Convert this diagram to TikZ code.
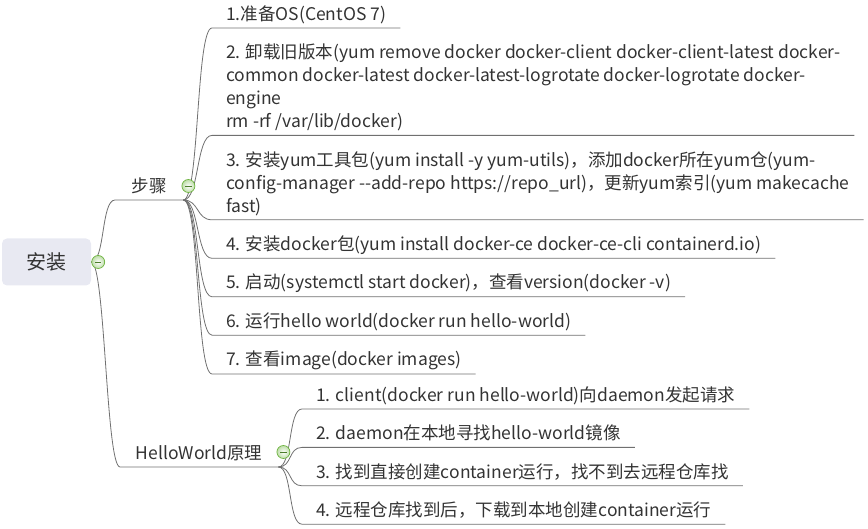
\documentclass[tikz,border=0pt]{standalone}
\usepackage{fontspec}
\setmainfont{Noto Sans CJK SC}
\usetikzlibrary{positioning}
\definecolor{linegray}{HTML}{707070}
\definecolor{textgray}{HTML}{333333}
\definecolor{rootfill}{HTML}{E8E9F2}
\definecolor{foldgreen}{HTML}{6DB33F}
\newcommand{\upstrut}{\rule{0pt}{27pt}}
\newcommand{\downstrut}{\rule[-4pt]{0pt}{4pt}}
\tikzset{
  root/.style={rectangle,rounded corners=5pt,fill=rootfill,minimum width=89pt,minimum height=47pt,
    font=\fontsize{20}{24}\selectfont,text=textgray},
  topic/.style={inner xsep=14pt,inner ysep=3.5pt,align=left,text=textgray,
    font=\fontsize{17.5}{23}\selectfont,
    execute at begin node={\upstrut},
    execute at end node={\downstrut}},
  conn/.style={draw=linegray,line width=0.8pt},
  fold/.style={circle,draw=foldgreen,line width=0.7pt,minimum size=13pt,inner sep=0pt,
    inner color=white,outer color=foldgreen!45,
    path picture={\draw[foldgreen!70!black,line width=0.9pt]
      ([xshift=-3.2pt]path picture bounding box.center) -- ([xshift=3.2pt]path picture bounding box.center);}}
}

\begin{document}
\begin{tikzpicture}[x=1pt,y=1pt]
\useasboundingbox (0,0) rectangle (868,529);

% root and its two branches
\node[root] (root) at (46.5,267) {安装};
\node[topic, anchor=south west, minimum width=68pt, align=center] (steps) at (115,329) {步骤};
\node[topic, anchor=south west, minimum width=158pt, align=center] (hello) at (120,62) {HelloWorld原理};

% steps
\node[topic, anchor=south west] (s1) at (212,501) {1.准备OS(CentOS 7)};
\node[topic, below=0pt of s1.south west, anchor=north west] (s2)
  {\upstrut 2. 卸载旧版本(yum remove docker docker-client docker-client-latest docker-\\
   common docker-latest docker-latest-logrotate docker-logrotate docker-\\
   engine\\
   rm -rf /var/lib/docker)\downstrut};
\node[topic, below=0pt of s2.south west, anchor=north west] (s3)
  {\upstrut 3. 安装yum工具包(yum install -y yum-utils)，添加docker所在yum仓(yum-\\
   config-manager -{}-add-repo https://repo\_url)，更新yum索引(yum makecache\\
   fast)\downstrut};
\node[topic, below=0pt of s3.south west, anchor=north west] (s4) {4. 安装docker包(yum install docker-ce docker-ce-cli containerd.io)};
\node[topic, below=0pt of s4.south west, anchor=north west] (s5) {5. 启动(systemctl start docker)，查看version(docker -v)};
\node[topic, below=0pt of s5.south west, anchor=north west] (s6) {6. 运行hello world(docker run hello-world)};
\node[topic, below=0pt of s6.south west, anchor=north west] (s7) {7. 查看image(docker images)};

% hello world
\node[topic, anchor=south west] (h1) at (302,120) {1. client(docker run hello-world)向daemon发起请求};
\node[topic, below=0pt of h1.south west, anchor=north west] (h2) {2. daemon在本地寻找hello-world镜像};
\node[topic, below=0pt of h2.south west, anchor=north west] (h3) {3. 找到直接创建container运行，找不到去远程仓库找};
\node[topic, below=0pt of h3.south west, anchor=north west] (h4) {4. 远程仓库找到后，下载到本地创建container运行};

% connectors with underlines
\foreach \n in {steps,hello}
  \draw[conn] (root.east) .. controls +(14,0) and +(-14,0) .. (\n.south west) -- (\n.south east);
\foreach \n in {s1,s2,s3,s4,s5,s6,s7}
  \draw[conn] (steps.south east) .. controls +(16,0) and +(-16,0) .. (\n.south west) -- (\n.south east);
\foreach \n in {h1,h2,h3,h4}
  \draw[conn] (hello.south east) .. controls +(14,0) and +(-14,0) .. (\n.south west) -- (\n.south east);

% fold buttons
\node[fold] (rootfold) at ([xshift=7pt]root.east) {};
\node[fold] (stepsfold) at ([shift={(5,14)}]steps.south east) {};
\node[fold] (hellofold) at ([shift={(5,15)}]hello.south east) {};
\end{tikzpicture}
\end{document}
